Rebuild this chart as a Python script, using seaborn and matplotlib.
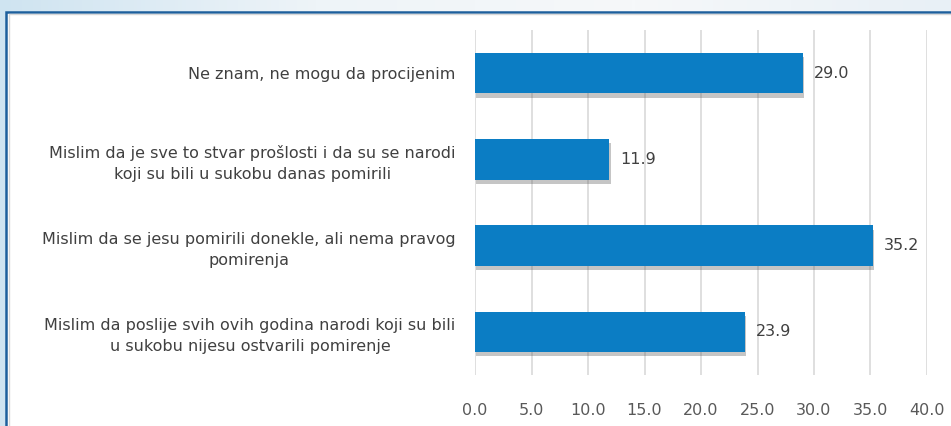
import numpy as np
import pandas as pd
import matplotlib
matplotlib.use("Agg")
import matplotlib.pyplot as plt
import matplotlib.patheffects as pe
from matplotlib.patches import Rectangle
from matplotlib.colors import LinearSegmentedColormap
import seaborn as sns

categories = [
    "Ne znam, ne mogu da procijenim",
    "Mislim da je sve to stvar prošlosti i da su se narodi\nkoji su bili u sukobu danas pomirili",
    "Mislim da se jesu pomirili donekle, ali nema pravog\npomirenja",
    "Mislim da poslije svih ovih godina narodi koji su bili\nu sukobu nijesu ostvarili pomirenje",
]
values = [29.0, 11.9, 35.2, 23.9]
x_ticks = [0, 5, 10, 15, 20, 25, 30, 35, 40]

df = pd.DataFrame({"odgovor": categories, "procenat": values})

sns.set_theme(style="white")
plt.rcParams["font.family"] = ["DejaVu Sans"]

W, H = 951, 426
fig = plt.figure(figsize=(W / 100, H / 100), dpi=100)

# soft blue backdrop behind the chart frame
bg = fig.add_axes([0, 0, 1, 1], zorder=0)
cmap = LinearSegmentedColormap.from_list("bg", ["#cfe4f1", "#eef4f8", "#f6f8fa", "#e8f0f6"])
bg.imshow(np.linspace(0, 1, 256)[None, :], aspect="auto", cmap=cmap,
          extent=[0, 1, 0, 1], transform=bg.transAxes)
bg.set_axis_off()

# white chart frame with a dark blue edge
frame = Rectangle((5.5 / W, -0.1), 1.1, (H - 11.5) / H + 0.1,
                  transform=fig.transFigure, facecolor="white",
                  edgecolor="#1d5f9c", linewidth=1.8, zorder=1)
fig.patches.append(frame)
inner = Rectangle((8.5 / W, -0.1), 1.1, (H - 14) / H + 0.1,
                  transform=fig.transFigure, facecolor="none",
                  edgecolor="#d8d8d8", linewidth=1.0, zorder=1)
fig.patches.append(inner)

left, right, top, bottom = 475, 927, 30, 375
ax = fig.add_axes([left / W, 1 - bottom / H, (right - left) / W, (bottom - top) / H], zorder=2)
ax.patch.set_alpha(0)

sns.barplot(data=df, y="odgovor", x="procenat", orient="h", color="#0b7dc4",
            width=0.47, saturation=1, ax=ax, zorder=3)

for bar in ax.patches:
    bar.set_path_effects([pe.SimplePatchShadow(offset=(1, -3), shadow_rgbFace="#5a5a5a", alpha=0.35),
                          pe.Normal()])
    bar.set_edgecolor("none")

for bar, v in zip(ax.patches, values):
    ax.annotate(f"{v:.1f}", (bar.get_width(), bar.get_y() + bar.get_height() / 2),
                xytext=(11, 0), textcoords="offset pixels",
                ha="left", va="center", fontsize=11.5, color="#404040")

ax.set_xlim(0, 40)
ax.set_ylim(3.5, -0.5)
ax.set_xticks(x_ticks)
ax.set_xticklabels([f"{t:.1f}" for t in x_ticks])
ax.grid(axis="x", color="#d9d9d9", linewidth=1.2, zorder=0)
ax.set_axisbelow(True)
for s in ax.spines.values():
    s.set_visible(False)
ax.set_xlabel("")
ax.set_ylabel("")
ax.tick_params(axis="x", length=0, pad=20, labelsize=11.5, labelcolor="#595959")
ax.tick_params(axis="y", length=0, pad=14, labelsize=11.5, labelcolor="#404040")
for lab in ax.get_yticklabels():
    lab.set_multialignment("center")
    lab.set_linespacing(1.5)

fig.savefig("out.png", dpi=100)
